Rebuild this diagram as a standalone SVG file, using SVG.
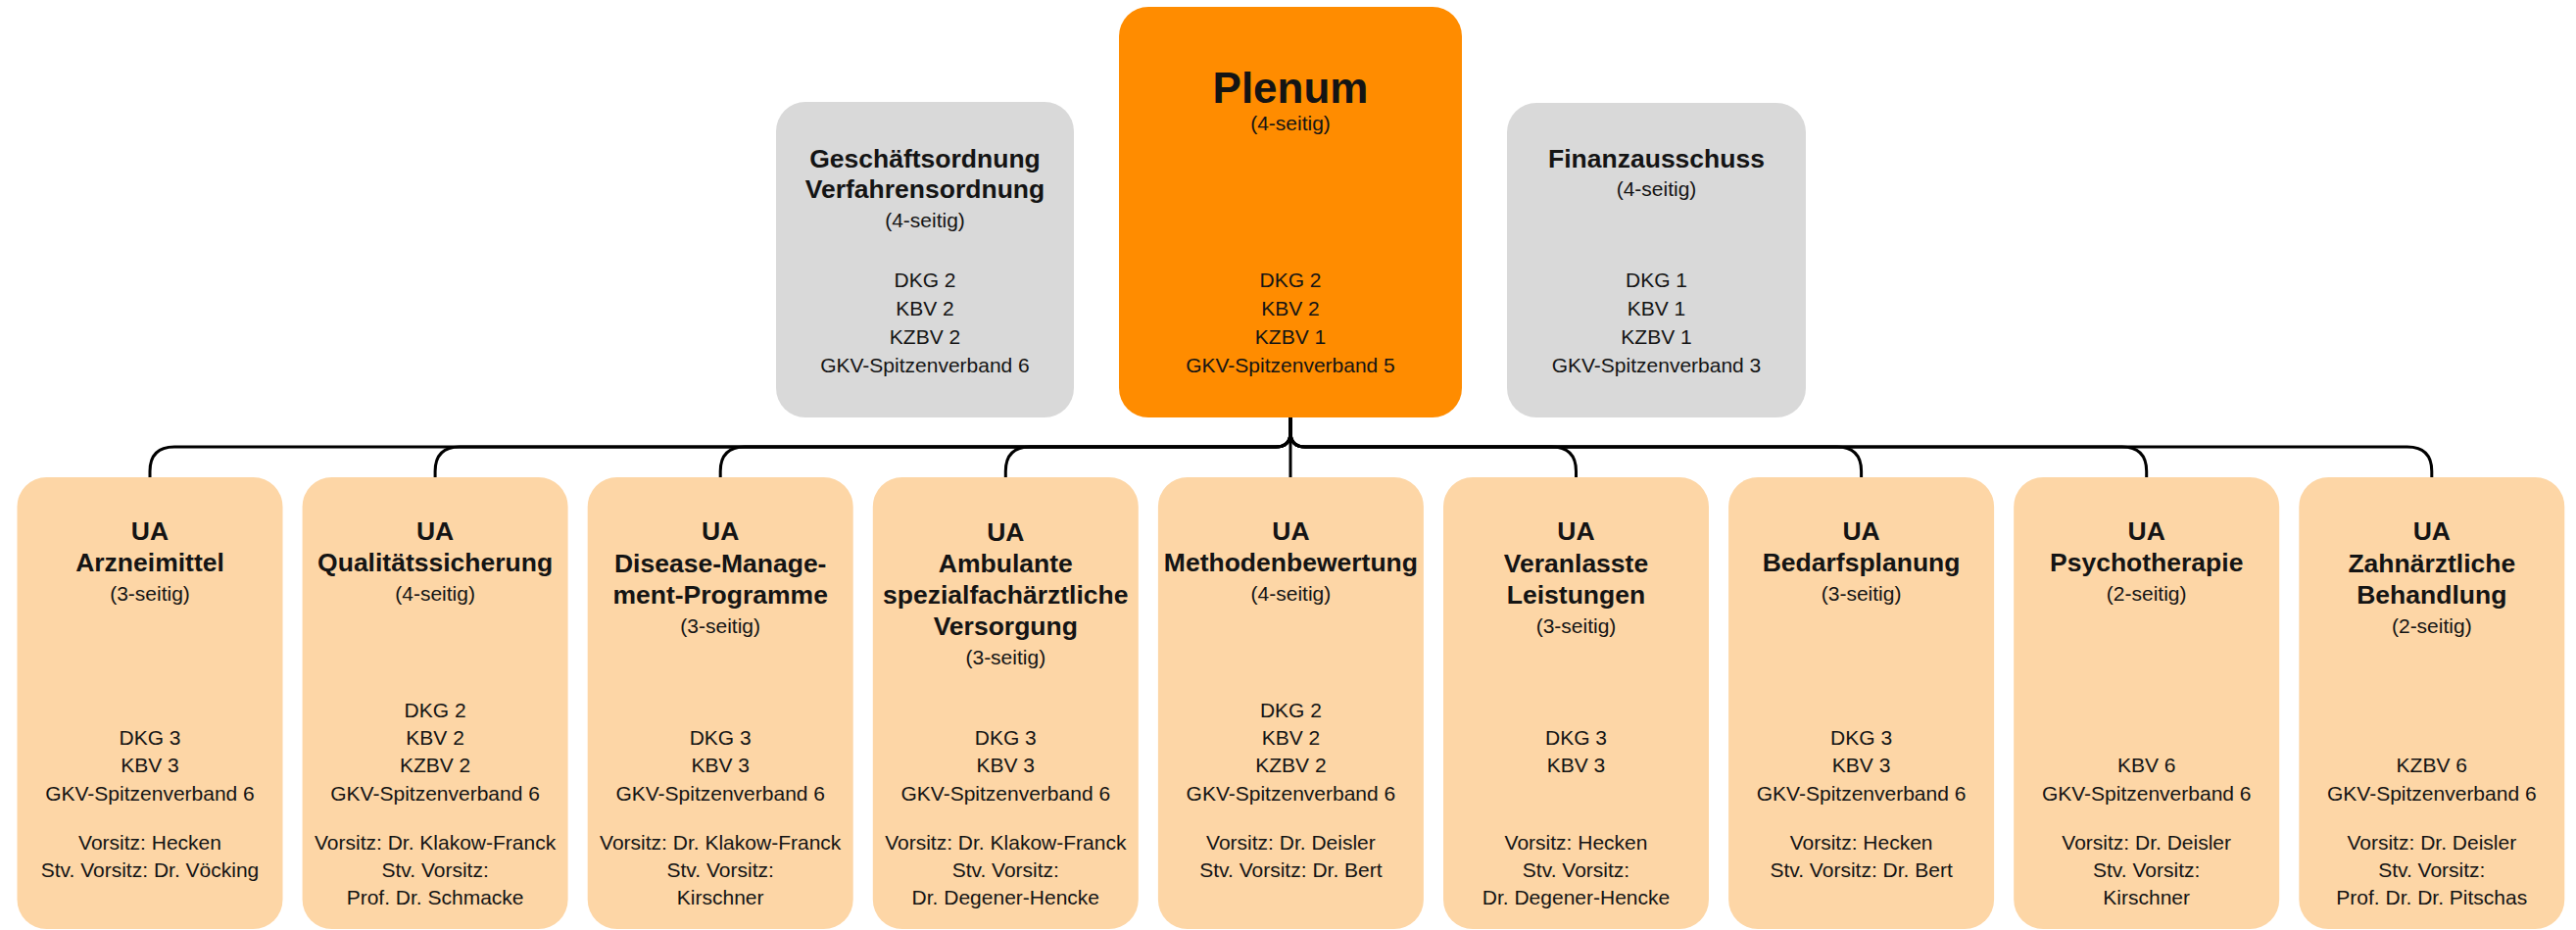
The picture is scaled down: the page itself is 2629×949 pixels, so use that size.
<svg xmlns="http://www.w3.org/2000/svg" width="2629" height="949" viewBox="0 0 2629 949">
<style>
text{font-family:"Liberation Sans",Arial,sans-serif;fill:#141414;text-anchor:middle}
.t{font-weight:bold;font-size:26.5px}
.b{font-size:21px}
.big{font-weight:bold;font-size:44px}
.ua{fill:#FDD6A6}
.grey{fill:#D9D9D9}
.conn{fill:none;stroke:#000;stroke-width:3}
</style>
<rect width="2629" height="949" fill="#fff"/>
<g id="connectors" class="conn">
<path d="M1317 426V487"/>
<path d="M1317 426V441Q1317 456 1302 456H178Q153 456 153 481V487"/>
<path d="M1317 426V441Q1317 456 1302 456H469.1Q444.1 456 444.1 481V487"/>
<path d="M1317 426V441Q1317 456 1302 456H760.2Q735.2 456 735.2 481V487"/>
<path d="M1317 426V441Q1317 456 1302 456H1051.3Q1026.3 456 1026.3 481V487"/>
<path d="M1317 426V441Q1317 456 1332 456H1583.5Q1608.5 456 1608.5 481V487"/>
<path d="M1317 426V441Q1317 456 1332 456H1874.6Q1899.6 456 1899.6 481V487"/>
<path d="M1317 426V441Q1317 456 1332 456H2165.7Q2190.7 456 2190.7 481V487"/>
<path d="M1317 426V441Q1317 456 1332 456H2456.8Q2481.8 456 2481.8 481V487"/>
</g>
<g id="plenum">
<rect x="1142" y="7" width="350" height="419" rx="30" fill="#FF8C00"/>
<text x="1317" y="105" class="big">Plenum</text>
<text x="1317" y="133" class="b">(4-seitig)</text>
<text x="1317" y="293" class="b">DKG 2</text>
<text x="1317" y="322" class="b">KBV 2</text>
<text x="1317" y="351" class="b">KZBV 1</text>
<text x="1317" y="380" class="b">GKV-Spitzenverband 5</text>
</g>
<g id="geschaeftsordnung">
<rect x="792" y="104" width="304" height="322" rx="30" class="grey"/>
<text x="944" y="171" class="t">Geschäftsordnung</text>
<text x="944" y="202" class="t">Verfahrensordnung</text>
<text x="944" y="232" class="b">(4-seitig)</text>
<text x="944" y="293" class="b">DKG 2</text>
<text x="944" y="322" class="b">KBV 2</text>
<text x="944" y="351" class="b">KZBV 2</text>
<text x="944" y="380" class="b">GKV-Spitzenverband 6</text>
</g>
<g id="finanzausschuss">
<rect x="1538" y="105" width="305" height="321" rx="30" class="grey"/>
<text x="1690.5" y="171" class="t">Finanzausschuss</text>
<text x="1690.5" y="200" class="b">(4-seitig)</text>
<text x="1690.5" y="293" class="b">DKG 1</text>
<text x="1690.5" y="322" class="b">KBV 1</text>
<text x="1690.5" y="351" class="b">KZBV 1</text>
<text x="1690.5" y="380" class="b">GKV-Spitzenverband 3</text>
</g>
<g id="ua-arzneimittel">
<rect x="17.5" y="487" width="271" height="461" rx="30" class="ua"/>
<text x="153" y="551" class="t">UA</text>
<text x="153" y="583" class="t">Arzneimittel</text>
<text x="153" y="613" class="b">(3-seitig)</text>
<text x="153" y="760" class="b">DKG 3</text>
<text x="153" y="788" class="b">KBV 3</text>
<text x="153" y="817" class="b">GKV-Spitzenverband 6</text>
<text x="153" y="867" class="b">Vorsitz: Hecken</text>
<text x="153" y="895" class="b">Stv. Vorsitz: Dr. Vöcking</text>
</g>
<g id="ua-qualitaetssicherung">
<rect x="308.6" y="487" width="271" height="461" rx="30" class="ua"/>
<text x="444.1" y="551" class="t">UA</text>
<text x="444.1" y="583" class="t">Qualitätssicherung</text>
<text x="444.1" y="613" class="b">(4-seitig)</text>
<text x="444.1" y="732" class="b">DKG 2</text>
<text x="444.1" y="760" class="b">KBV 2</text>
<text x="444.1" y="788" class="b">KZBV 2</text>
<text x="444.1" y="817" class="b">GKV-Spitzenverband 6</text>
<text x="444.1" y="867" class="b">Vorsitz: Dr. Klakow-Franck</text>
<text x="444.1" y="895" class="b">Stv. Vorsitz:</text>
<text x="444.1" y="923" class="b">Prof. Dr. Schmacke</text>
</g>
<g id="ua-dmp">
<rect x="599.7" y="487" width="271" height="461" rx="30" class="ua"/>
<text x="735.2" y="551" class="t">UA</text>
<text x="735.2" y="584" class="t">Disease-Manage-</text>
<text x="735.2" y="616" class="t">ment-Programme</text>
<text x="735.2" y="646" class="b">(3-seitig)</text>
<text x="735.2" y="760" class="b">DKG 3</text>
<text x="735.2" y="788" class="b">KBV 3</text>
<text x="735.2" y="817" class="b">GKV-Spitzenverband 6</text>
<text x="735.2" y="867" class="b">Vorsitz: Dr. Klakow-Franck</text>
<text x="735.2" y="895" class="b">Stv. Vorsitz:</text>
<text x="735.2" y="923" class="b">Kirschner</text>
</g>
<g id="ua-asv">
<rect x="890.8" y="487" width="271" height="461" rx="30" class="ua"/>
<text x="1026.3" y="552" class="t">UA</text>
<text x="1026.3" y="584" class="t">Ambulante</text>
<text x="1026.3" y="616" class="t">spezialfachärztliche</text>
<text x="1026.3" y="648" class="t">Versorgung</text>
<text x="1026.3" y="678" class="b">(3-seitig)</text>
<text x="1026.3" y="760" class="b">DKG 3</text>
<text x="1026.3" y="788" class="b">KBV 3</text>
<text x="1026.3" y="817" class="b">GKV-Spitzenverband 6</text>
<text x="1026.3" y="867" class="b">Vorsitz: Dr. Klakow-Franck</text>
<text x="1026.3" y="895" class="b">Stv. Vorsitz:</text>
<text x="1026.3" y="923" class="b">Dr. Degener-Hencke</text>
</g>
<g id="ua-methodenbewertung">
<rect x="1181.9" y="487" width="271" height="461" rx="30" class="ua"/>
<text x="1317.4" y="551" class="t">UA</text>
<text x="1317.4" y="583" class="t">Methodenbewertung</text>
<text x="1317.4" y="613" class="b">(4-seitig)</text>
<text x="1317.4" y="732" class="b">DKG 2</text>
<text x="1317.4" y="760" class="b">KBV 2</text>
<text x="1317.4" y="788" class="b">KZBV 2</text>
<text x="1317.4" y="817" class="b">GKV-Spitzenverband 6</text>
<text x="1317.4" y="867" class="b">Vorsitz: Dr. Deisler</text>
<text x="1317.4" y="895" class="b">Stv. Vorsitz: Dr. Bert</text>
</g>
<g id="ua-veranlasste-leistungen">
<rect x="1473" y="487" width="271" height="461" rx="30" class="ua"/>
<text x="1608.5" y="551" class="t">UA</text>
<text x="1608.5" y="584" class="t">Veranlasste</text>
<text x="1608.5" y="616" class="t">Leistungen</text>
<text x="1608.5" y="646" class="b">(3-seitig)</text>
<text x="1608.5" y="760" class="b">DKG 3</text>
<text x="1608.5" y="788" class="b">KBV 3</text>
<text x="1608.5" y="867" class="b">Vorsitz: Hecken</text>
<text x="1608.5" y="895" class="b">Stv. Vorsitz:</text>
<text x="1608.5" y="923" class="b">Dr. Degener-Hencke</text>
</g>
<g id="ua-bedarfsplanung">
<rect x="1764.1" y="487" width="271" height="461" rx="30" class="ua"/>
<text x="1899.6" y="551" class="t">UA</text>
<text x="1899.6" y="583" class="t">Bedarfsplanung</text>
<text x="1899.6" y="613" class="b">(3-seitig)</text>
<text x="1899.6" y="760" class="b">DKG 3</text>
<text x="1899.6" y="788" class="b">KBV 3</text>
<text x="1899.6" y="817" class="b">GKV-Spitzenverband 6</text>
<text x="1899.6" y="867" class="b">Vorsitz: Hecken</text>
<text x="1899.6" y="895" class="b">Stv. Vorsitz: Dr. Bert</text>
</g>
<g id="ua-psychotherapie">
<rect x="2055.2" y="487" width="271" height="461" rx="30" class="ua"/>
<text x="2190.7" y="551" class="t">UA</text>
<text x="2190.7" y="583" class="t">Psychotherapie</text>
<text x="2190.7" y="613" class="b">(2-seitig)</text>
<text x="2190.7" y="788" class="b">KBV 6</text>
<text x="2190.7" y="817" class="b">GKV-Spitzenverband 6</text>
<text x="2190.7" y="867" class="b">Vorsitz: Dr. Deisler</text>
<text x="2190.7" y="895" class="b">Stv. Vorsitz:</text>
<text x="2190.7" y="923" class="b">Kirschner</text>
</g>
<g id="ua-zahnaerztliche-behandlung">
<rect x="2346.3" y="487" width="271" height="461" rx="30" class="ua"/>
<text x="2481.8" y="551" class="t">UA</text>
<text x="2481.8" y="584" class="t">Zahnärztliche</text>
<text x="2481.8" y="616" class="t">Behandlung</text>
<text x="2481.8" y="646" class="b">(2-seitig)</text>
<text x="2481.8" y="788" class="b">KZBV 6</text>
<text x="2481.8" y="817" class="b">GKV-Spitzenverband 6</text>
<text x="2481.8" y="867" class="b">Vorsitz: Dr. Deisler</text>
<text x="2481.8" y="895" class="b">Stv. Vorsitz:</text>
<text x="2481.8" y="923" class="b">Prof. Dr. Dr. Pitschas</text>
</g>
</svg>
